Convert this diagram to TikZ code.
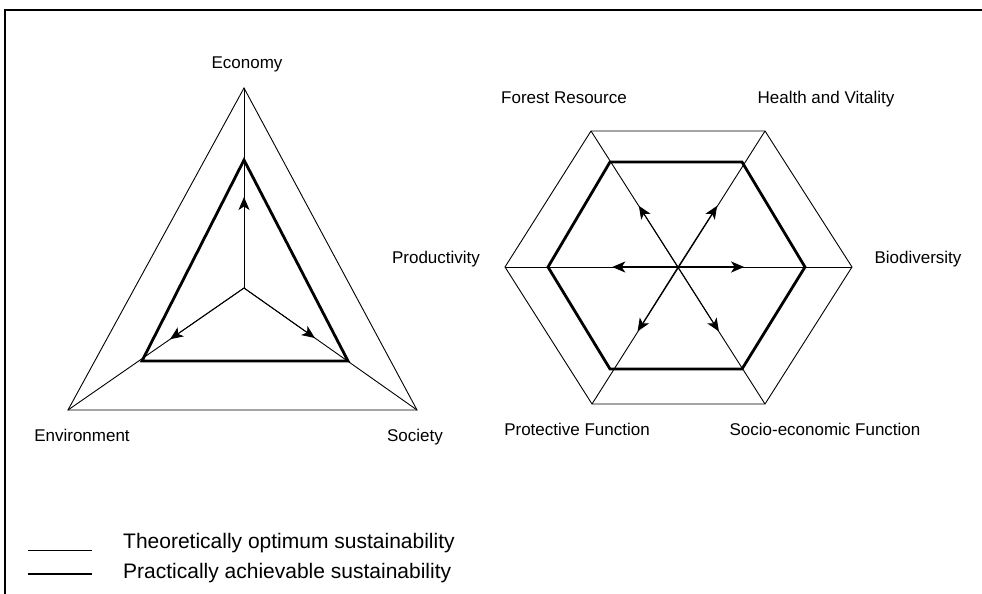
\documentclass[tikz,border=0pt]{standalone}
\usepackage{fontspec}
\setmainfont{Liberation Sans}
\usetikzlibrary{arrows.meta,calc}

\tikzset{
  thinline/.style={line width=0.9pt},
  thickline/.style={line width=2.8pt},
  spoke/.style={thinline, -{Stealth[length=13pt,width=11pt,inset=3.5pt]}},
  axislabel/.style={anchor=base, inner sep=0pt, font=\fontsize{17}{20}\selectfont},
  keylabel/.style={anchor=base west, inner sep=0pt, font=\fontsize{21}{25}\selectfont}
}

\begin{document}
\begin{tikzpicture}[x=1pt,y=-1pt,line join=miter]
  \useasboundingbox (0,0) rectangle (982,594);
  % frame
  \draw[line width=1.6pt] (982,10) -- (5,10) -- (5,594);

  % triangle
  \coordinate (T0) at (244,288);
  \coordinate (E1) at (244,88);
  \coordinate (E2) at (68,410);
  \coordinate (E3) at (417,410);
  \coordinate (I1) at (244,160);
  \coordinate (I2) at (142,361);
  \coordinate (I3) at (348,361);
  \coordinate (a1) at ($(T0)!0.455!(E1)$);
  \coordinate (a2) at ($(T0)!0.42!(E2)$);
  \coordinate (a3) at ($(T0)!0.41!(E3)$);

  \draw[thinline] (E1) -- (E2) -- (E3) -- cycle;
  \draw[thickline] (I1) -- (I2) -- (I3) -- cycle;
  \begin{scope}[thinline]
    \draw (T0) -- (E1);
    \draw (T0) -- (E2);
    \draw (T0) -- (E3);
  \end{scope}
  \begin{scope}[spoke]
    \draw (T0) -- (a1);
    \draw (T0) -- (a2);
    \draw (T0) -- (a3);
  \end{scope}

  \node[axislabel] (economy) at (247,69) {Economy};
  \node[axislabel] (environment) at (82,441) {Environment};
  \node[axislabel] (society) at (415,441) {Society};

  % hexagon
  \coordinate (H0) at (678,267);
  \coordinate (H1) at (591,131);
  \coordinate (H2) at (765,131);
  \coordinate (H3) at (852,267);
  \coordinate (H4) at (765,404);
  \coordinate (H5) at (592,404);
  \coordinate (H6) at (505,267);
  \coordinate (J1) at (610,162);
  \coordinate (J2) at (742,162);
  \coordinate (J3) at (805,267);
  \coordinate (J4) at (742,369);
  \coordinate (J5) at (610,369);
  \coordinate (J6) at (548,267);
  \coordinate (b1) at ($(H0)!0.45!(H1)$);
  \coordinate (b2) at ($(H0)!0.45!(H2)$);
  \coordinate (b3) at ($(H0)!0.38!(H3)$);
  \coordinate (b4) at ($(H0)!0.47!(H4)$);
  \coordinate (b5) at ($(H0)!0.47!(H5)$);
  \coordinate (b6) at ($(H0)!0.38!(H6)$);

  \draw[thinline] (H1) -- (H2) -- (H3) -- (H4) -- (H5) -- (H6) -- cycle;
  \draw[thickline] (J1) -- (J2) -- (J3) -- (J4) -- (J5) -- (J6) -- cycle;
  \begin{scope}[thinline]
    \draw (H1) -- (H4);
    \draw (H2) -- (H5);
    \draw (H6) -- (H3);
  \end{scope}
  \begin{scope}[spoke]
    \draw (H0) -- (b1);
    \draw (H0) -- (b2);
    \draw (H0) -- (b4);
    \draw (H0) -- (b5);
    \draw[line width=1.8pt] (H0) -- (b3);
    \draw[line width=1.8pt] (H0) -- (b6);
  \end{scope}

  \node[axislabel] (forest) at (564,103) {Forest Resource};
  \node[axislabel] (health) at (826,103) {Health and Vitality};
  \node[axislabel] (productivity) at (436,263) {Productivity};
  \node[axislabel] (biodiversity) at (918,263) {Biodiversity};
  \node[axislabel] (protective) at (577,435) {Protective Function};
  \node[axislabel] (socio) at (825,435) {Socio-economic Function};

  % legend
  \coordinate (k1) at (28,550);
  \coordinate (k2) at (92,550);
  \coordinate (k3) at (28,574);
  \coordinate (k4) at (92,574);
  \draw[thinline] (k1) -- (k2);
  \draw[thickline] (k3) -- (k4);
  \node[keylabel] (theory) at (123,548) {Theoretically optimum sustainability};
  \node[keylabel] (practice) at (123,578) {Practically achievable sustainability};
\end{tikzpicture}
\end{document}
